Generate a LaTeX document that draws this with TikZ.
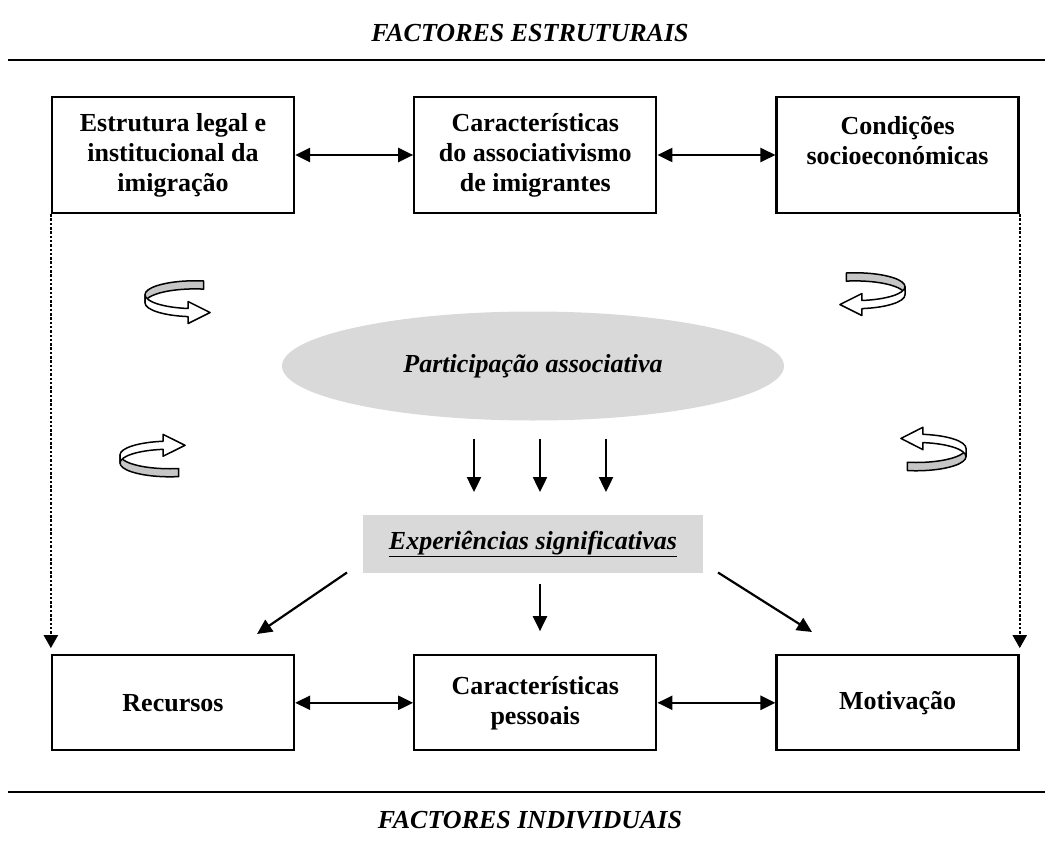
\documentclass[tikz,border=0pt]{standalone}
\usepackage{fontspec}
\setmainfont{Liberation Serif}
\usepackage{tikz}
\usetikzlibrary{arrows.meta, positioning, shapes.geometric}
\definecolor{shade}{HTML}{D9D9D9}
\definecolor{band}{HTML}{C6C6C6}

\begin{document}
\begin{tikzpicture}[
    x=1pt, y=-1pt,
    every node/.style={font=\fontsize{26}{30}\selectfont\bfseries},
    box/.style={rectangle, draw, line width=2.3pt, minimum width=242pt, minimum height=116pt, inner sep=0pt, align=center},
    lowbox/.style={box, minimum height=95pt},
    title/.style={font=\fontsize{26}{30}\selectfont\bfseries\itshape},
    arrow/.style={-{Triangle[length=15pt, width=14pt]}, line width=2.2pt},
    dblarrow/.style={{Triangle[length=15pt, width=14pt]}-{Triangle[length=15pt, width=14pt]}, line width=2.4pt},
    dotarrow/.style={-{Triangle[length=13pt, width=14pt]}, line width=2.2pt, dash pattern=on 2.5pt off 1.8pt},
    rule/.style={line width=1.8pt},
    twistline/.style={line width=1.5pt, line join=round},
    turnarrow/.pic={
        \filldraw[twistline, fill=band] (-80:50 and 12) arc[start angle=-80, end angle=-180, x radius=50, y radius=12]
            -- ++(0,7) arc[start angle=-180, end angle=-80, x radius=50, y radius=12] -- cycle;
        \filldraw[twistline, fill=white] (180:50 and 12) arc[start angle=180, end angle=98, x radius=50, y radius=12]
            -- ++(0,-6) -- ++(22,9.5) -- ++(-22,9.5) -- ++(0,-6)
            arc[start angle=98, end angle=180, x radius=50, y radius=12] -- cycle;
    }
]
\useasboundingbox (0,0) rectangle (1052,848);

\node[title] (tstruct) at (530,33) {FACTORES ESTRUTURAIS};
\node[title] (tindiv) at (530,820) {FACTORES INDIVIDUAIS};
\draw[rule] (8,60) -- (1045,60);
\draw[rule] (8,792) -- (1045,792);

\node[box] (legal) at (173,155) {Estrutura legal e\\institucional da\\imigração};
\node[box, right=118pt of legal] (assoc) {Características\\do associativismo\\de imigrantes};
\node[box, right=118pt of assoc] (socio) {Condições\\socioeconómicas\\\mbox{}};

\node[lowbox, below=440pt of legal] (res) {Recursos};
\node[lowbox, below=440pt of assoc] (pers) {Características\\pessoais};
\node[lowbox, below=440pt of socio] (motiv) {Motivação};

\node[ellipse, fill=shade, minimum width=502pt, minimum height=109pt] (part) at (533,366) {\itshape Participação associativa};
\node[rectangle, fill=shade, minimum width=340pt, minimum height=57.5pt] (exp) at (533,544) {\itshape\underline{Experiências significativas}};

\pic[yscale=1.16] (twtl) at (195,294.7) {turnarrow};
\pic[xscale=-1, yscale=1.16] (twtr) at (855,286.7) {turnarrow};
\pic[yscale=-1.15] (twbl) at (170,463) {turnarrow};
\pic[xscale=-1, yscale=-1.18] (twbr) at (916,456.6) {turnarrow};

\draw[dblarrow] (legal) -- (assoc);
\draw[dblarrow] (assoc) -- (socio);
\draw[dblarrow] (res) -- (pers);
\draw[dblarrow] (pers) -- (motiv);

\draw[dotarrow, shorten >=6pt] (legal.south west) -- (res.north west);
\draw[dotarrow, shorten >=6pt] (socio.south east) -- (motiv.north east);

\foreach \dx in {-59,7,73}
    \draw[arrow, shorten <=18pt, shorten >=23pt] ([xshift=\dx pt]part.south) -- ([xshift=\dx pt]part.south |- exp.north);

\coordinate (expl) at (347,572.5);
\coordinate (resr) at (257,634);
\coordinate (expr) at (718,572.5);
\coordinate (motl) at (812,632);
\draw[arrow] (expl) -- (resr);
\draw[arrow, shorten <=11pt, shorten >=23pt] ([xshift=7pt]exp.south) -- ([xshift=7pt]exp.south |- pers.north);
\draw[arrow] (expr) -- (motl);
\end{tikzpicture}
\end{document}
